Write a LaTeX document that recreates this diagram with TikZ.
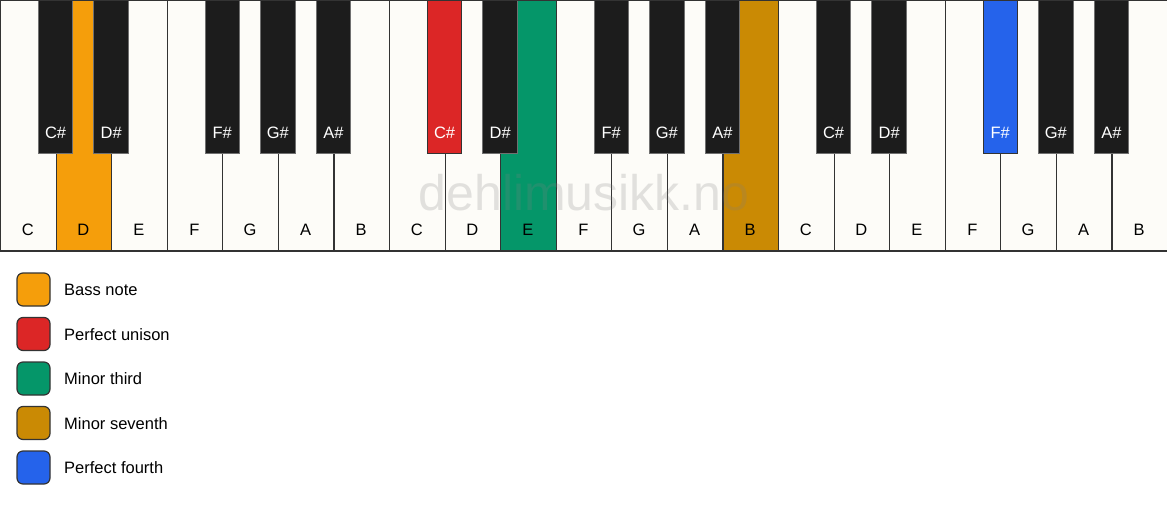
\documentclass[tikz,border=0pt]{standalone}
\usepackage{fontspec}
\setmainfont{Liberation Sans}
\usepackage{tikz}
\definecolor{ivory}{HTML}{FDFCF8}
\definecolor{keyblack}{HTML}{1C1C1C}
\definecolor{edge}{HTML}{333333}
\definecolor{bassnote}{HTML}{F59E0B}
\definecolor{unison}{HTML}{DC2626}
\definecolor{minthird}{HTML}{059669}
\definecolor{minseventh}{HTML}{CA8A04}
\definecolor{pfourth}{HTML}{2563EB}

\begin{document}
\begin{tikzpicture}[
  x=1pt,y=-1pt,
  font={\fontsize{16.5}{19}\selectfont},
  whitekey/.style={draw=edge,line width=1.2pt,anchor=north west,
    minimum width=55.571pt,minimum height=250pt,inner sep=0pt},
  blackkey/.style={draw=edge!70,line width=0.8pt,anchor=north,
    minimum width=34.5pt,minimum height=153pt,inner sep=0pt},
  keylabel/.style={inner sep=0pt},
  swatch/.style={draw=edge,line width=1.2pt,rounded corners=6pt,
    minimum size=33pt,inner sep=0pt},
  legendtext/.style={anchor=west,inner sep=0pt},
  ]
  \useasboundingbox (0,0) rectangle (1167,506);
  % White keys
  \foreach \n/\c [count=\i from 0] in {C/ivory,D/bassnote,E/ivory,F/ivory,
      G/ivory,A/ivory,B/ivory,C/ivory,D/ivory,E/minthird,F/ivory,G/ivory,
      A/ivory,B/minseventh,C/ivory,D/ivory,E/ivory,F/ivory,G/ivory,A/ivory,
      B/ivory}{
    \node[whitekey,fill=\c] (w\i) at (\i*55.571,0) {};
    \node[keylabel] (lw\i) at (\i*55.571+27.8,230) {\n};
  }
  % Black keys, centred on the gaps between white keys
  \foreach \n/\g/\c/\d [count=\i from 0] in {
      C\#/1/keyblack/edge!70,D\#/2/keyblack/edge!70,F\#/4/keyblack/edge!70,
      G\#/5/keyblack/edge!70,A\#/6/keyblack/edge!70,
      C\#/8/unison/edge,D\#/9/keyblack/edge!70,F\#/11/keyblack/edge!70,
      G\#/12/keyblack/edge!70,A\#/13/keyblack/edge!70,
      C\#/15/keyblack/edge!70,D\#/16/keyblack/edge!70,F\#/18/pfourth/edge,
      G\#/19/keyblack/edge!70,A\#/20/keyblack/edge!70}{
    \node[blackkey,fill=\c,draw=\d] (b\i) at (\g*55.571,0) {};
    \node[keylabel,text=white] (lb\i) at (\g*55.571,133) {\n};
  }
  % Outer frame
  \draw[edge,line width=1.5pt] (w0.north west) rectangle (w20.south east);
  % Watermark
  \node[text=gray,opacity=0.22,font={\fontsize{50}{52}\selectfont}]
    (mark) at (584,193) {dehlimusikk.no};
  % Legend
  \node[swatch,fill=bassnote] (s1) at (33.5,289.5) {};
  \node[swatch,fill=unison] (s2) at (33.5,334) {};
  \node[swatch,fill=minthird] (s3) at (33.5,378.5) {};
  \node[swatch,fill=minseventh] (s4) at (33.5,423) {};
  \node[swatch,fill=pfourth] (s5) at (33.5,467.5) {};
  \node[legendtext] (t1) at (64,290) {Bass note};
  \node[legendtext] (t2) at (64,334.5) {Perfect unison};
  \node[legendtext] (t3) at (64,379) {Minor third};
  \node[legendtext] (t4) at (64,423.5) {Minor seventh};
  \node[legendtext] (t5) at (64,468) {Perfect fourth};
\end{tikzpicture}
\end{document}
